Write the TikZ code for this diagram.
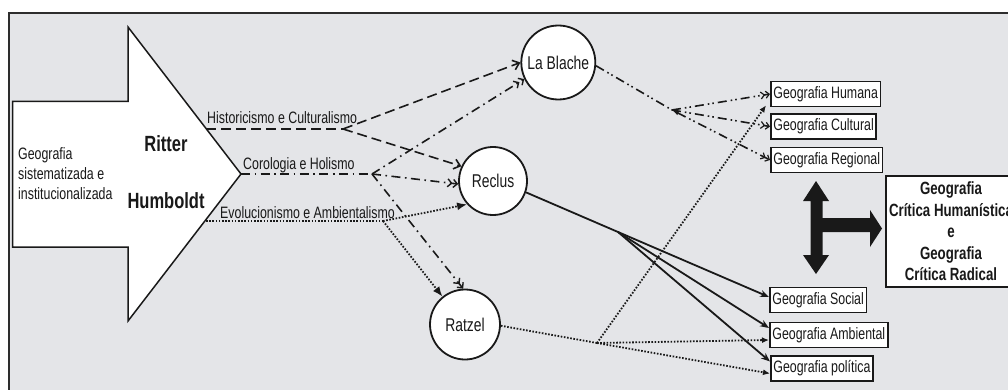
\documentclass[tikz,border=0pt]{standalone}
\usepackage{fontspec}
\setmainfont[FakeStretch=0.75]{Liberation Sans}
\usetikzlibrary{arrows.meta,calc}
\definecolor{bgc}{RGB}{228,229,232}
\definecolor{ink}{RGB}{25,25,25}
\definecolor{framec}{RGB}{45,45,45}
\tikzset{
  conn/.style={line width=1.6pt, draw=ink},
  hist/.style={conn, dash pattern=on 10pt off 5pt},
  coro/.style={conn, dash pattern=on 9pt off 4.5pt on 1.6pt off 4.5pt},
  evol/.style={conn, line width=1.8pt, dash pattern=on 1.6pt off 1.6pt},
  blache/.style={conn, dash pattern=on 9pt off 4pt on 1.6pt off 3pt on 1.6pt off 4pt},
  solidc/.style={conn, line width=1.8pt},
  tipH/.style={-{Straight Barb[length=6pt,width=10pt]}},
  tipC/.style={-{Straight Barb[length=4pt,width=8pt,line width=1.4pt] Straight Barb[length=4pt,width=8pt,line width=1.4pt]}},
  tipE/.style={-{Latex[length=10pt,width=8pt]}},
  tipB/.style={-{Straight Barb[length=3.5pt,width=7pt,line width=1.2pt] Straight Barb[length=3.5pt,width=7pt,line width=1.2pt]}},
  tipR/.style={-{Stealth[length=9pt,width=7pt]}},
  tipZ/.style={-{Latex[length=7pt,width=6pt]}},
  circ/.style={circle, draw=ink, line width=1.8pt, fill=white, inner sep=0pt, text=ink, font=\fontsize{18.5}{20}\selectfont},
  gbox/.style={draw=ink, line width=1.8pt, fill=white, inner xsep=2.5pt, inner ysep=0pt, minimum height=25pt, anchor=west, text=ink, font=\fontsize{16.5}{18}\selectfont},
  lbl/.style={inner sep=0pt, anchor=base west, text=ink, font=\fontsize{16.5}{18}\selectfont},
  bigname/.style={inner sep=0pt, anchor=base, text=ink, font=\bfseries\fontsize{22}{24}\selectfont},
}
\begin{document}
\begin{tikzpicture}[x=1pt,y=-1pt]
\useasboundingbox (0,0) rectangle (1008,390);
\clip (0,0) rectangle (1008,390);
% frame
\fill[white] (0,0) rectangle (1008,390);
\fill[bgc] (9,13) rectangle (1030,410);
\draw[framec, line width=2.5pt] (9,410) -- (9,13) -- (1030,13);

% big arrow
\draw[ink, line width=1.5pt, fill=white, line join=miter]
  (12.5,101.5) -- (128,101.5) -- (128,27) -- (241,174) -- (128,321) -- (128,247) -- (12.5,247) -- cycle;
\node[inner sep=0pt, anchor=north west, align=left, text=ink, font=\fontsize{16.5}{19.7}\selectfont] (gsi) at (18,147.5)
  {Geografia\\sistematizada e\\institucionalizada};
\node[bigname] (ritter) at (166,151.7) {Ritter};
\node[bigname] (humboldt) at (166,208.3) {Humboldt};

% start coordinates and branches
\coordinate (h0) at (206,129);
\coordinate (tip) at (241,174);
\coordinate (e0) at (206,221);
\coordinate (hb) at (343,129);
\coordinate (cb) at (372,174);
\coordinate (eb) at (383,221);
\coordinate (lb) at (672,110);
\coordinate (rb) at (618,232);
\coordinate (zb) at (597,343);

% labels
\node[lbl] (lh) at (207,124) {Historicismo e Culturalismo};
\node[lbl] (lc) at (243,169.5) {Corologia e Holismo};
\node[lbl] (le) at (220,218.5) {Evolucionismo e Ambientalismo};

% circles
\node[circ, minimum size=74pt] (LaBlache) at (558.3,62.5) {La Blache};
\node[circ, minimum size=68pt] (Reclus) at (493,181) {Reclus};
\node[circ, minimum size=70pt] (Ratzel) at (465,324.5) {Ratzel};

% boxes
\node[gbox] (Humana) at (770,94) {Geografia Humana};
\node[gbox] (Cultural) at (770,126.5) {Geografia Cultural};
\node[gbox] (Regional) at (770,160) {Geografia Regional};
\node[gbox] (Social) at (769,300) {Geografia Social};
\node[gbox] (Ambiental) at (769,335) {Geografia Ambiental};
\node[gbox] (Politica) at (770,368.5) {Geografia política};

\node[draw=ink, line width=1.8pt, fill=white, minimum width=130pt, minimum height=111pt, inner sep=0pt, align=center, text=ink,
      font=\bfseries\fontsize{17.7}{21.5}\selectfont] (critica) at (951,231.5)
  {Geografia\\Crítica Humanística\\e\\Geografia\\Crítica Radical};

% T arrow
\fill[ink] (816,181) -- (829,201) -- (822.5,201) -- (822.5,218) -- (870,218) -- (870,210) -- (882,228.5)
  -- (870,247) -- (870,232) -- (822.5,232) -- (822.5,255) -- (829,255) -- (816,274) -- (803,255)
  -- (810.5,255) -- (810.5,201) -- (803,201) -- cycle;

% Historicismo e Culturalismo
\draw[hist] (h0) -- (hb);
\draw[hist, tipH] (hb) -- (LaBlache.west);
\draw[hist, tipH] (hb) -- (Reclus.155);
% Corologia e Holismo
\draw[coro] (tip) -- (cb);
\draw[coro, tipC] (cb) -- (LaBlache.206);
\draw[coro, tipC] (cb) -- (Reclus.185);
\draw[coro, tipC] (cb) -- (Ratzel.93);
% Evolucionismo e Ambientalismo
\draw[evol] (e0) -- (eb);
\draw[evol, tipE] (eb) -- (Reclus.222);
\draw[evol, tipE] (eb) -- (Ratzel.129);
% La Blache
\draw[blache] (LaBlache.-5) -- (lb);
\draw[blache, {Latex[length=7pt,width=4.5pt]}-{Straight Barb[length=3.5pt,width=7pt,line width=1.2pt] Straight Barb[length=3.5pt,width=7pt,line width=1.2pt]}] (lb) -- (Regional.west);
\draw[blache, tipB] (lb) -- (Humana.west);
\draw[blache, tipB] (lb) -- (Cultural.west);
% Reclus
\draw[solidc] (Reclus.-19) -- (rb);
\draw[solidc, tipR] (rb) -- ($(Social.west)+(0,-3)$);
\draw[solidc, tipR] (rb) -- ($(Ambiental.west)+(0,-7)$);
\draw[solidc, tipR] (rb) -- ($(Politica.west)+(0,-7)$);
% Ratzel
\draw[evol] (Ratzel.-2) -- (zb);
\draw[evol, tipZ] (zb) -- ($(Ambiental.west)+(0,5)$);
\draw[evol, tipZ] (zb) -- ($(Politica.west)+(0,5)$);
\draw[evol, tipZ] (zb) -- ($(Humana.south west)+(-4,-2)$);
\end{tikzpicture}
\end{document}
